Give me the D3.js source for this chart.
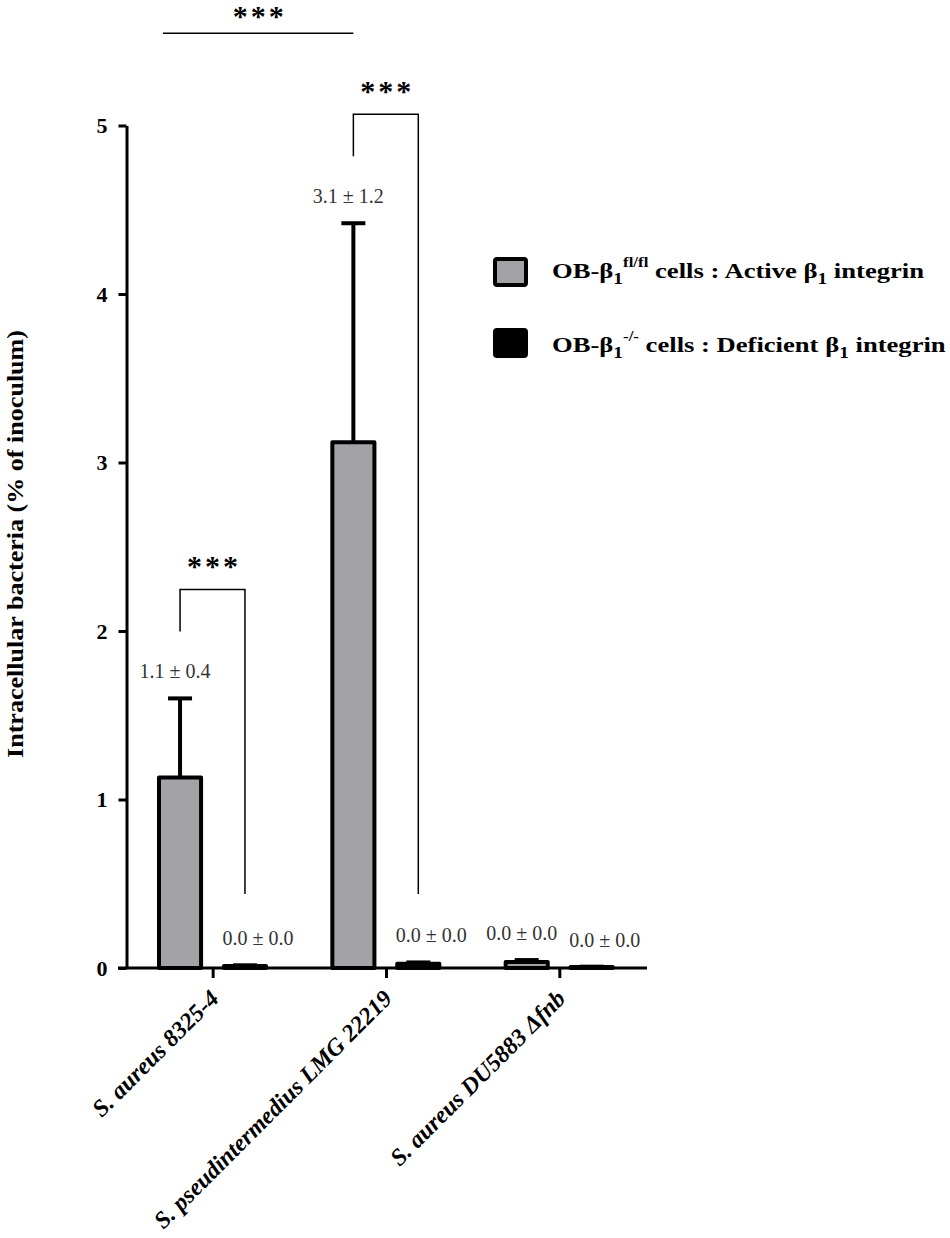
<!DOCTYPE html>
<html>
<head>
<meta charset="utf-8">
<script src="https://cdn.jsdelivr.net/npm/d3@7"></script>
<style>
  body { margin: 0; background: #fff; }
  svg text { font-family: "Liberation Serif", "Times New Roman", serif; }
</style>
</head>
<body>
<div id="drawing_region"></div>
<script>
// strains on the x axis
const groups = ["S. aureus 8325-4", "S. pseudintermedius LMG 22219", "S. aureus DU5883 \u0394fnb"];
const series = ["fl", "ko"];

// OB-b1 fl/fl (grey) and OB-b1 -/- (black), mean and SEM
const meanFl = [1.13, 3.12, 0.035];
const errFl = [0.47, 1.30, 0.012];
const meanKo = [0.012, 0.025, 0.006];
const errKo = [0.004, 0.008, 0.002];

const labelFl = ["1.1 \u00b1 0.4", "3.1 \u00b1 1.2", "0.0 \u00b1 0.0"];
const labelKo = ["0.0 \u00b1 0.0", "0.0 \u00b1 0.0", "0.0 \u00b1 0.0"];

const yTicks = [0, 1, 2, 3, 4, 5];
const signifGroups = [0, 1];   // fl vs ko brackets inside these groups
const signifTop = [0, 1];      // fl of group 0 vs fl of group 1

const width = 950, height = 1238;
const grey = "#a3a2a7";

const svg = d3.select("#drawing_region").append("svg")
    .attr("width", width)
    .attr("height", height);

const y = d3.scaleLinear().domain([0, 5]).range([968, 125.5]);
const x = d3.scaleBand().domain(groups).range([126.5, 646.5]).padding(0);
const xs = d3.scaleBand().domain(series).range([30.5, 141.5]).paddingInner(0.29);

const rows = [];
groups.forEach((g, i) => {
    rows.push({ g, s: "fl", mean: meanFl[i], err: errFl[i], label: labelFl[i] });
    rows.push({ g, s: "ko", mean: meanKo[i], err: errKo[i], label: labelKo[i] });
});
const cx = d => x(d.g) + xs(d.s) + xs.bandwidth() / 2;

// bars
svg.append("g").selectAll("rect").data(rows).enter().append("rect")
    .attr("x", d => x(d.g) + xs(d.s) + 2)
    .attr("width", xs.bandwidth() - 4)
    .attr("y", d => y(d.mean))
    .attr("height", d => y(0) - y(d.mean))
    .attr("fill", d => d.s === "fl" ? grey : "#000")
    .attr("stroke", "#000")
    .attr("stroke-width", 4)
    .attr("stroke-linejoin", "round");

// error bars (upper only)
const eb = svg.append("g").attr("stroke", "#000").attr("stroke-width", 4);
eb.selectAll("line.v").data(rows).enter().append("line")
    .attr("x1", cx).attr("x2", cx)
    .attr("y1", d => y(d.mean)).attr("y2", d => y(d.mean + d.err));
eb.selectAll("line.c").data(rows).enter().append("line")
    .attr("x1", d => cx(d) - 12).attr("x2", d => cx(d) + 12)
    .attr("y1", d => y(d.mean + d.err)).attr("y2", d => y(d.mean + d.err));

// axes
const yAxis = d3.axisLeft(y).tickValues(yTicks).tickFormat(d3.format("d"))
    .tickSize(8).tickPadding(11).tickSizeOuter(0);
const yg = svg.append("g").attr("transform", "translate(126.5,0)").call(yAxis);
yg.select(".domain").attr("stroke-width", 3);
yg.selectAll(".tick line").attr("stroke-width", 3);
yg.selectAll(".tick text").attr("font-size", 22).attr("font-weight", "bold")
    .attr("font-family", "Liberation Serif").attr("fill", "#000").attr("dy", "0.34em");

const xAxis = d3.axisBottom(x).tickSize(10).tickSizeOuter(0).tickFormat("");
const xg = svg.append("g").attr("transform", `translate(0,${y(0)})`).call(xAxis);
xg.select(".domain").attr("stroke-width", 3).attr("d", `M118,0H647`);
xg.selectAll(".tick line").attr("stroke-width", 3);

// rotated category labels
svg.append("g").selectAll("text").data(groups).enter().append("text")
    .attr("transform", d => `translate(${x(d) + x.bandwidth() / 2 + 7},1000) rotate(-45)`)
    .attr("text-anchor", "end")
    .attr("font-size", 24)
    .attr("font-weight", "bold")
    .attr("font-style", "italic")
    .text(d => d);

// value labels above bars
const lab = svg.append("g").selectAll("text").data(rows).enter().append("text")
    .attr("x", d => cx(d) + (d.s === "ko" ? 6 : 2))
    .attr("y", d => y(d.mean + d.err) - 20)
    .attr("text-anchor", "middle")
    .attr("font-size", 20)
    .attr("fill", "#333")
    .text(d => d.label);
// push apart labels that collide inside a group
groups.forEach(g => {
    const pair = lab.filter(d => d.g === g).nodes();
    const a = pair[0], b = pair[1];
    const wa = a.getComputedTextLength(), wb = b.getComputedTextLength();
    const xa = +a.getAttribute("x"), xb = +b.getAttribute("x");
    const overlap = (xa + wa / 2 + 12) - (xb - wb / 2);
    if (overlap > 0) {
        a.setAttribute("x", xa - overlap / 2);
        b.setAttribute("x", xb + overlap / 2);
    }
});

// significance brackets
const sig = svg.append("g").attr("fill", "none").attr("stroke", "#000").attr("stroke-width", 1.5);
const stars = (sx, sy) => svg.append("text")
    .attr("x", sx).attr("y", sy)
    .attr("text-anchor", "middle")
    .attr("font-size", 30).attr("font-weight", "bold")
    .attr("letter-spacing", 3)
    .attr("dx", 1.5)
    .text("***");

const tops = [];
signifGroups.forEach(i => {
    const a = rows[i * 2], b = rows[i * 2 + 1];
    const legBottom = y(a.mean + a.err) - 67;
    const top = legBottom - 42;
    const rightBottom = y(0) - 74;
    sig.append("path")
        .attr("d", `M${cx(a)},${legBottom}V${top}H${cx(b)}V${rightBottom}`);
    stars((cx(a) + cx(b)) / 2, top - 13);
    tops.push(top);
});

const ta = rows[signifTop[0] * 2], tb = rows[signifTop[1] * 2];
const topY = d3.min(tops) - 81;
const tx1 = x(ta.g) + xs(ta.s) + 6, tx2 = cx(tb);
sig.append("path").attr("d", `M${tx1},${topY}H${tx2}`);
stars((tx1 + tx2) / 2, topY - 7);

// y axis title
svg.append("text")
    .attr("transform", "translate(23,544) rotate(-90)")
    .attr("text-anchor", "middle")
    .attr("font-size", 24)
    .attr("font-weight", "bold")
    .attr("textLength", 428)
    .attr("lengthAdjust", "spacingAndGlyphs")
    .text("Intracellular bacteria (% of inoculum)");

// legend
const legend = svg.append("g").attr("font-weight", "bold");
const legendRows = [
    { fill: grey, sup: "fl/fl", rest: " cells : Active " },
    { fill: "#000", sup: "-/-", rest: " cells : Deficient " }
];
legendRows.forEach((r, i) => {
    const ly = 257 + i * 71;
    legend.append("rect")
        .attr("x", 495).attr("y", ly + 2)
        .attr("width", 31).attr("height", 26)
        .attr("rx", 2)
        .attr("fill", r.fill).attr("stroke", "#000").attr("stroke-width", 4);
    const t = legend.append("text")
        .attr("transform", `translate(552,${278 + i * 74}) scale(1.21,1)`)
        .attr("font-size", 22);
    t.append("tspan").text("OB-\u03b2");
    t.append("tspan").attr("font-size", 16).attr("dy", 6).text("1");
    t.append("tspan").attr("font-size", 14).attr("dy", -17).text(r.sup);
    t.append("tspan").attr("dy", 11).text(r.rest + "\u03b2");
    t.append("tspan").attr("font-size", 16).attr("dy", 6).text("1");
    t.append("tspan").attr("dy", -6).text(" integrin");
});
</script>
</body>
</html>
